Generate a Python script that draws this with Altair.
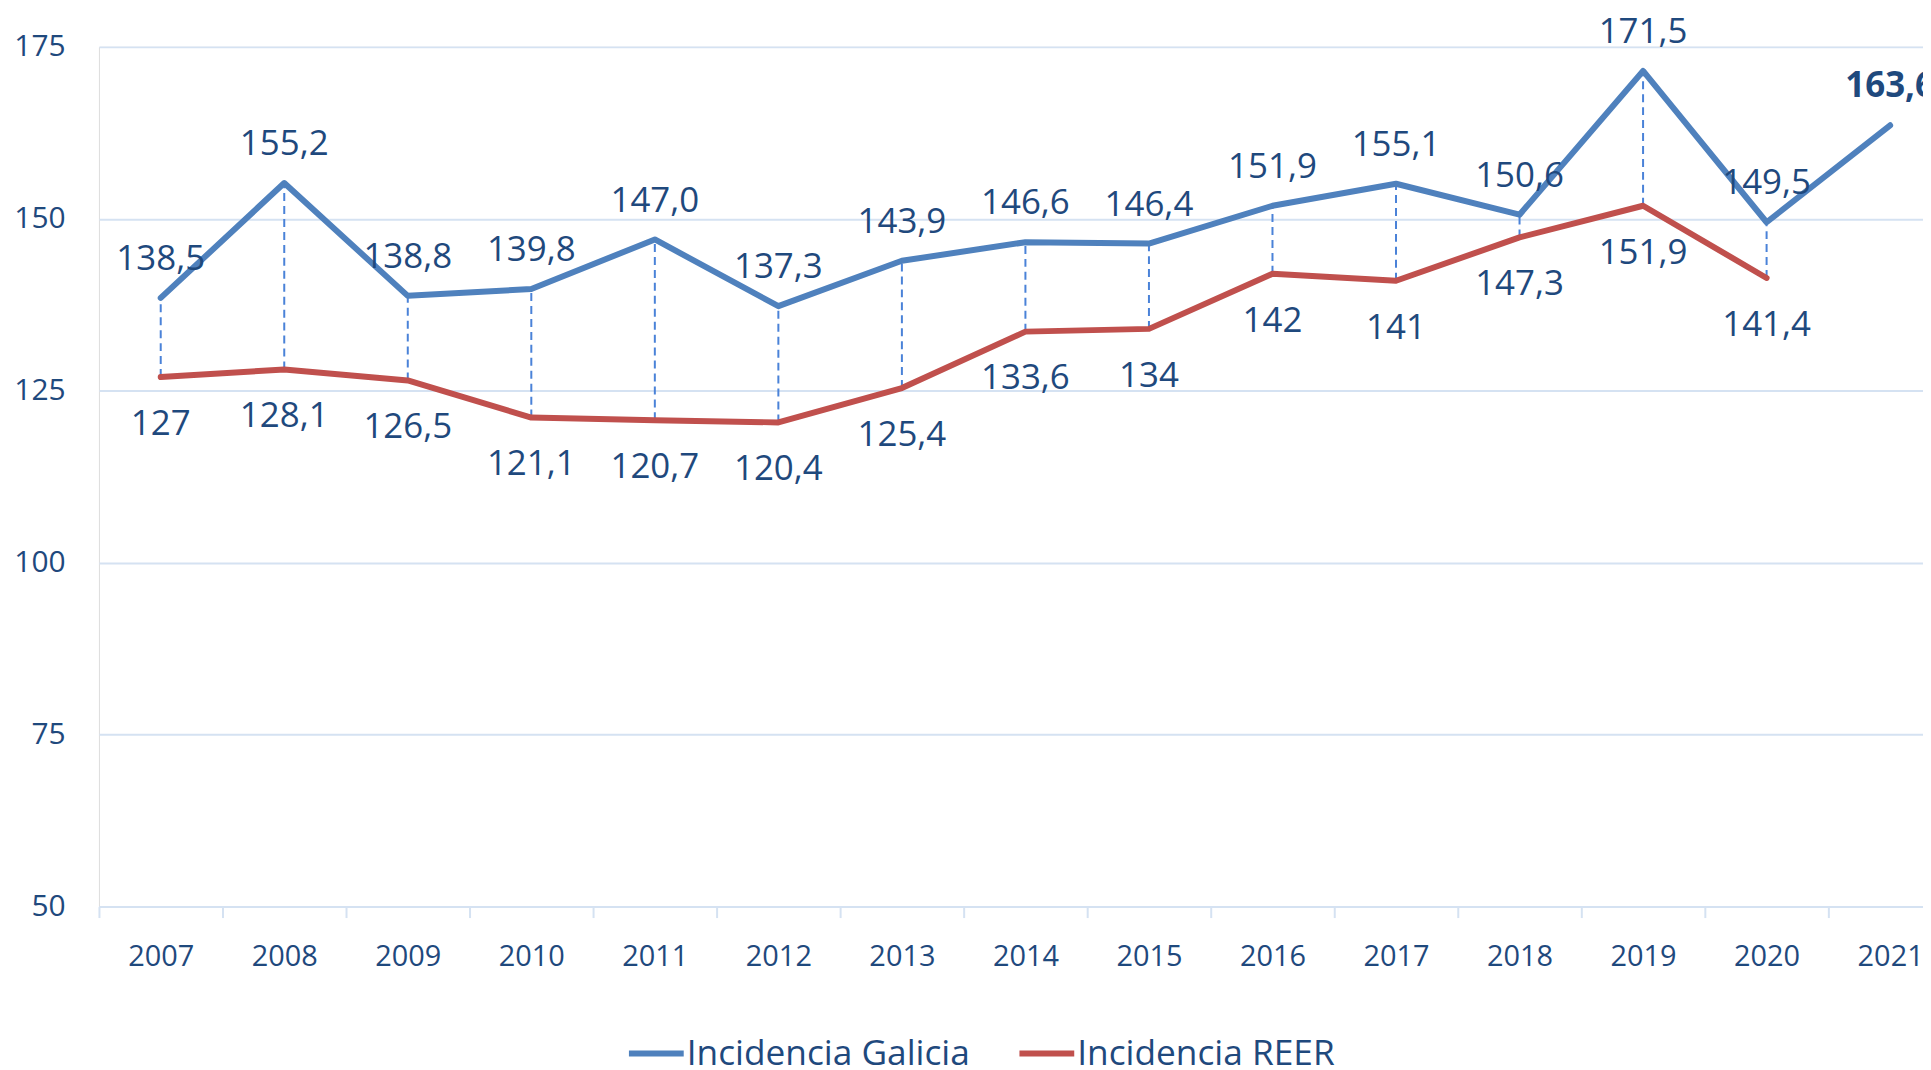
import altair as alt
import pandas as pd

# ---- data ----
years = [str(y) for y in range(2007, 2022)]
galicia = [138.5, 155.2, 138.8, 139.8, 147.0, 137.3, 143.9, 146.6, 146.4,
           151.9, 155.1, 150.6, 171.5, 149.5, 163.6]
galicia_labels = ["138,5", "155,2", "138,8", "139,8", "147,0", "137,3", "143,9",
                  "146,6", "146,4", "151,9", "155,1", "150,6", "171,5", "149,5", "163,6"]
reer = [127, 128.1, 126.5, 121.1, 120.7, 120.4, 125.4, 133.6, 134,
        142, 141, 147.3, 151.9, 141.4]
reer_labels = ["127", "128,1", "126,5", "121,1", "120,7", "120,4", "125,4",
               "133,6", "134", "142", "141", "147,3", "151,9", "141,4"]
y_ticks = [50, 75, 100, 125, 150, 175]
series_names = ["Incidencia Galicia", "Incidencia REER"]
highlight_year = "2021"

# ---- styling ----
FONT = "Open Sans"
TEXT = "#1F497D"
BLUE = "#4F81BD"
RED = "#C0504D"
GRID = "#D5E2F2"
DROP = "#4A82D8"
BAND = 124.0
FULL_W = BAND * len(years)
VIEW_W = 1831
VIEW_H = 863

long_rows = []
for i, y in enumerate(years):
    long_rows.append({"year": y, "series": series_names[0], "value": galicia[i], "label": galicia_labels[i]})
for i, v in enumerate(reer):
    long_rows.append({"year": years[i], "series": series_names[1], "value": v, "label": reer_labels[i]})
long_df = pd.DataFrame(long_rows)

wide_df = pd.DataFrame({"year": years[:len(reer)], "gal": galicia[:len(reer)], "reer": reer})

x_scale = alt.Scale(type="band", paddingInner=0, paddingOuter=0, range=[0, FULL_W])
y_scale = alt.Scale(domain=[50, 175], nice=False, zero=False)

x_axis = alt.Axis(title=None, labelAngle=0, labelFont=FONT, labelFontSize=29,
                  labelColor=TEXT, labelPadding=39, labelBaseline="middle",
                  labelOverlap=False, domainColor=GRID, domainWidth=2,
                  tickColor=GRID, tickWidth=2, tickSize=11, tickBand="extent",
                  grid=False)
y_axis = alt.Axis(title=None, values=y_ticks, labelFont=FONT, labelFontSize=30,
                  labelColor=TEXT, labelPadding=34, domain=False, ticks=False,
                  grid=True, gridColor=GRID, gridWidth=2)

X = alt.X("year:N", sort=years, scale=x_scale, axis=x_axis, bandPosition=0.5)
Xp = alt.X("year:N", sort=years, bandPosition=0.5)

drops = alt.Chart(wide_df).mark_rule(color=DROP, strokeWidth=2, strokeDash=[8, 5]).encode(
    x=X,
    y=alt.Y("reer:Q", scale=y_scale, axis=y_axis),
    y2="gal:Q",
)

lines = alt.Chart(long_df).mark_line(strokeWidth=6, strokeCap="round", strokeJoin="round").encode(
    x=Xp,
    y=alt.Y("value:Q"),
    color=alt.Color(
        "series:N",
        scale=alt.Scale(domain=series_names, range=[BLUE, RED]),
        legend=alt.Legend(orient="none", legendX=529, legendY=980, direction="horizontal",
                          title=None, symbolType="stroke", symbolSize=3025,
                          symbolStrokeWidth=6, labelFont=FONT, labelFontSize=35.4,
                          labelColor=TEXT, labelOffset=0, columnPadding=37,
                          padding=0, labelLimit=500),
    ),
)

gal_text = alt.Chart(long_df).transform_filter(
    (alt.datum.series == series_names[0]) & (alt.datum.year != highlight_year)
).mark_text(font=FONT, fontSize=35, color=TEXT, dy=-39, baseline="middle").encode(
    x=Xp, y="value:Q", text="label:N"
)

gal_bold = alt.Chart(long_df).transform_filter(
    (alt.datum.series == series_names[0]) & (alt.datum.year == highlight_year)
).mark_text(font=FONT, fontSize=35, fontWeight="bold", color=TEXT, dy=-39, baseline="middle").encode(
    x=Xp, y="value:Q", text="label:N"
)

reer_text = alt.Chart(long_df).transform_filter(
    alt.datum.series == series_names[1]
).mark_text(font=FONT, fontSize=35, color=TEXT, dy=47, baseline="middle").encode(
    x=Xp, y="value:Q", text="label:N"
)

chart = alt.layer(drops, lines, gal_text, gal_bold, reer_text).properties(
    width=VIEW_W,
    height=VIEW_H,
    autosize=alt.AutoSizeParams(type="none"),
    padding={"left": 91.3, "top": 37, "right": 0, "bottom": 162},
).configure_view(stroke=None).configure(font=FONT)

chart.save("out.html", embed_options={"renderer": "svg", "actions": False})
